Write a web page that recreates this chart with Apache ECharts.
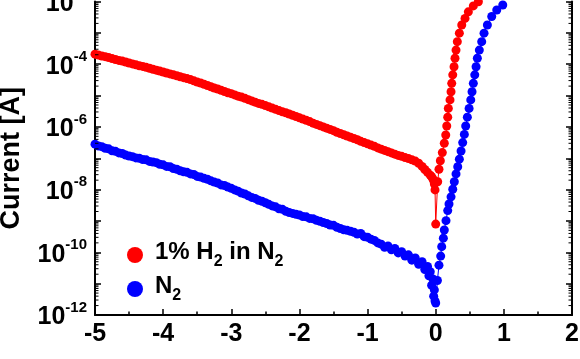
<!DOCTYPE html>
<html><head><meta charset="utf-8">
<script src="https://cdn.jsdelivr.net/npm/echarts@6/dist/echarts.min.js"></script>
<style>html,body{margin:0;padding:0;background:#fff}#c{width:580px;height:359px}</style>
</head><body><div id="c"></div>
<script>
// ---- data (voltage in V, current as log10 of A) ----
const seriesNames = ['1% H2 in N2', 'N2'];
const legendLabels = ['{a|1% H}{s|2}{a| in N}{s|2}', '{a|N}{s|2}'];
const xTickLabels = ['-5','-4','-3','-2','-1','0','1','2'];

const negVoltage = [
-5.00,-4.95,-4.90,-4.85,-4.80,-4.75,-4.70,-4.65,-4.60,-4.55,
-4.50,-4.45,-4.40,-4.35,-4.30,-4.25,-4.20,-4.15,-4.10,-4.05,
-4.00,-3.95,-3.90,-3.85,-3.80,-3.75,-3.70,-3.65,-3.60,-3.55,
-3.50,-3.45,-3.40,-3.35,-3.30,-3.25,-3.20,-3.15,-3.10,-3.05,
-3.00,-2.95,-2.90,-2.85,-2.80,-2.75,-2.70,-2.65,-2.60,-2.55,
-2.50,-2.45,-2.40,-2.35,-2.30,-2.25,-2.20,-2.15,-2.10,-2.05,
-2.00,-1.95,-1.90,-1.85,-1.80,-1.75,-1.70,-1.65,-1.60,-1.55,
-1.50,-1.45,-1.40,-1.35,-1.30,-1.25,-1.20,-1.15,-1.10,-1.05,
-1.00,-0.95,-0.90,-0.85,-0.80,-0.75,-0.70,-0.65,-0.60,-0.55,
-0.50,-0.45,-0.40,-0.35,-0.30,-0.25,-0.20];

const redTailVoltage = [-0.16,-0.12,-0.08,-0.06,-0.04,-0.03,-0.02,-0.01,0.00,
0.029,0.048,0.068,0.097,0.126,0.147,0.162,0.176,0.185,0.21,0.225,0.235,0.25,0.269,0.283,0.298,0.317,0.347,0.382,0.43,0.479,0.552,0.626];

const redLogCurrent = [
-3.68,-3.71,-3.74,-3.76,-3.79,-3.82,-3.85,-3.88,-3.90,-3.93,
-3.96,-3.99,-4.02,-4.05,-4.07,-4.10,-4.13,-4.16,-4.19,-4.22,
-4.25,-4.28,-4.31,-4.34,-4.37,-4.40,-4.43,-4.46,-4.49,-4.53,
-4.57,-4.60,-4.64,-4.68,-4.72,-4.76,-4.79,-4.83,-4.87,-4.91,
-4.94,-4.98,-5.02,-5.05,-5.09,-5.13,-5.17,-5.21,-5.25,-5.28,
-5.32,-5.36,-5.40,-5.44,-5.48,-5.52,-5.55,-5.59,-5.63,-5.67,
-5.71,-5.75,-5.79,-5.83,-5.88,-5.92,-5.96,-6.00,-6.04,-6.08,
-6.12,-6.17,-6.21,-6.25,-6.29,-6.33,-6.37,-6.41,-6.46,-6.50,
-6.54,-6.58,-6.62,-6.67,-6.71,-6.75,-6.79,-6.83,-6.87,-6.91,
-6.94,-6.98,-7.01,-7.05,-7.09,-7.16,-7.26,
-7.36,-7.45,-7.54,-7.59,-7.66,-7.71,-7.82,-8.01,-9.10,
-7.75,-7.35,-7.08,-6.82,-6.52,-6.26,-5.97,-5.69,-5.41,-5.14,-4.88,-4.61,-4.34,-4.08,-3.81,-3.55,-3.28,-3.01,-2.75,-2.54,-2.33,-2.14,-2.01];

const blueTailVoltage = [-0.16,-0.12,-0.10,-0.08,-0.06,-0.04,-0.03,-0.02,-0.01,0.00,
0.025,0.048,0.073,0.088,0.112,0.126,0.151,0.176,0.195,0.225,0.25,0.273,0.298,0.323,0.347,0.372,0.396,0.42,0.44,0.464,0.49,0.514,0.533,0.552,0.573,0.592,0.611,0.64,0.675,0.709,0.758,0.822,0.896,0.984];

const blueLogCurrent = [
-6.55,-6.61,-6.63,-6.68,-6.70,-6.76,-6.78,-6.83,-6.85,-6.90,
-6.93,-6.95,-6.99,-7.00,-7.04,-7.05,-7.10,-7.12,-7.14,-7.19,
-7.21,-7.26,-7.27,-7.33,-7.35,-7.40,-7.43,-7.45,-7.50,-7.52,
-7.58,-7.60,-7.64,-7.67,-7.72,-7.76,-7.79,-7.85,-7.87,-7.92,
-7.96,-8.01,-8.05,-8.11,-8.14,-8.20,-8.25,-8.28,-8.34,-8.37,
-8.42,-8.47,-8.52,-8.55,-8.61,-8.63,-8.69,-8.73,-8.76,-8.79,
-8.81,-8.86,-8.87,-8.92,-8.93,-8.98,-9.01,-9.05,-9.08,-9.13,
-9.14,-9.20,-9.24,-9.28,-9.30,-9.33,-9.36,-9.42,-9.40,-9.50,
-9.52,-9.58,-9.62,-9.70,-9.74,-9.84,-9.80,-9.92,-9.88,-10.02,
-9.98,-10.12,-10.08,-10.25,-10.18,-10.38,-10.30,
-10.55,-10.45,-10.75,-10.62,-11.05,-10.85,-11.40,-11.20,-11.55,-11.62,
-10.90,-10.41,-10.12,-9.82,-9.55,-9.29,-8.99,-8.67,-8.46,-8.23,-7.99,-7.75,-7.50,-7.27,-7.03,-6.77,-6.50,-6.24,-5.97,-5.69,-5.41,-5.14,-4.88,-4.61,-4.34,-4.08,-3.81,-3.55,-3.28,-3.01,-2.75,-2.48,-2.27,-2.11];

const yMinExp = -12, yMaxExp = -2;
const xMin = -5, xMax = 2;

// ---- build ----
const FONT = '"Liberation Sans", Arial, Helvetica, sans-serif';
const redData = negVoltage.concat(redTailVoltage).map((v, i) => [v, Math.pow(10, redLogCurrent[i])]);
const blueData = negVoltage.concat(blueTailVoltage).map((v, i) => [v, Math.pow(10, blueLogCurrent[i])]);

// minor log tick positions (axis decoration)
const minorTickVals = [];
for (let n = yMinExp; n < yMaxExp; n++) for (let k = 2; k <= 9; k++) minorTickVals.push([xMin, k * Math.pow(10, n)]);

const yLabelRich = {
  b: {fontFamily: FONT, fontWeight: 'bold', fontSize: 25, color: '#000', lineHeight: 30, verticalAlign: 'bottom'},
  s: {fontFamily: FONT, fontWeight: 'bold', fontSize: 15, color: '#000', lineHeight: 30, verticalAlign: 'top'}
};

const chart = echarts.init(document.getElementById('c'), null, {renderer: 'canvas'});
chart.setOption({
  animation: false,
  backgroundColor: '#fff',
  grid: {left: 95, right: 8, top: 1.5, bottom: 44, containLabel: false, outerBoundsMode: 'none'},
  legend: {
    data: seriesNames,
    orient: 'vertical',
    left: 127, top: 240,
    padding: 0,
    itemGap: 4,
    itemWidth: 16, itemHeight: 16,
    icon: 'circle',
    selectedMode: false,
    formatter: name => legendLabels[seriesNames.indexOf(name)],
    textStyle: {
      padding: [0, 0, 0, 7],
      rich: {
        a: {fontFamily: FONT, fontWeight: 'bold', fontSize: 24, color: '#000', lineHeight: 30, verticalAlign: 'top'},
        s: {fontFamily: FONT, fontWeight: 'bold', fontSize: 16, color: '#000', lineHeight: 30, verticalAlign: 'bottom'}
      }
    }
  },
  xAxis: {
    type: 'value', min: xMin, max: xMax, interval: 1,
    axisLine: {show: true, onZero: false, lineStyle: {color: '#000', width: 2}},
    axisTick: {show: true, inside: true, length: 6, lineStyle: {color: '#000', width: 1.5}},
    minorTick: {show: true, splitNumber: 2, length: 3.5, lineStyle: {color: '#000', width: 1.5}},
    splitLine: {show: false},
    axisLabel: {
      margin: 7, color: '#000', fontFamily: FONT, fontWeight: 'bold', fontSize: 25,
      formatter: v => xTickLabels[Math.round(v - xMin)]
    }
  },
  yAxis: [{
    type: 'log', logBase: 10, min: Math.pow(10, yMinExp), max: Math.pow(10, yMaxExp), interval: 1,
    name: 'Current [A]', nameLocation: 'middle', nameRotate: 90, nameGap: 70,
    nameTextStyle: {fontFamily: FONT, fontWeight: 'bold', fontSize: 27, color: '#000'},
    axisLine: {show: true, onZero: false, lineStyle: {color: '#000', width: 2}},
    axisTick: {show: true, inside: true, length: 6, lineStyle: {color: '#000', width: 1.5}},
    splitLine: {show: false},
    axisLabel: {
      margin: 8,
      formatter: v => { const e = Math.round(Math.log10(v)); return (e % 2 !== 0) ? '' : '{b|10}{s|' + e + '}'; },
      rich: yLabelRich
    }
  }, {
    type: 'log', logBase: 10, min: Math.pow(10, yMinExp), max: Math.pow(10, yMaxExp), interval: 1,
    position: 'right',
    axisLine: {show: true, onZero: false, lineStyle: {color: '#000', width: 2}},
    axisTick: {show: true, inside: true, length: 6, lineStyle: {color: '#000', width: 1.5}},
    splitLine: {show: false},
    axisLabel: {show: false}
  }],
  series: [
    {
      name: seriesNames[0], type: 'line', data: redData,
      symbol: 'circle', symbolSize: 9, showSymbol: true, showAllSymbol: true,
      itemStyle: {color: '#ff0000'}, lineStyle: {color: '#ff0000', width: 1},
      emphasis: {disabled: true}, z: 3
    },
    {
      name: seriesNames[1], type: 'line', data: blueData,
      symbol: 'circle', symbolSize: 9, showSymbol: true, showAllSymbol: true,
      itemStyle: {color: '#0000ff'}, lineStyle: {color: '#0000ff', width: 1},
      emphasis: {disabled: true}, z: 2
    },
    {
      type: 'custom', silent: true, data: minorTickVals, z: 5,
      renderItem: (params, api) => {
        const v = api.value(1);
        const pL = api.coord([xMin, v]);
        const pR = api.coord([xMax, v]);
        return {type: 'group', children: [
          {type: 'line', shape: {x1: pL[0], y1: pL[1], x2: pL[0] + 3.5, y2: pL[1]}, style: {stroke: '#000', lineWidth: 1}},
          {type: 'line', shape: {x1: pR[0] - 3.5, y1: pR[1], x2: pR[0], y2: pR[1]}, style: {stroke: '#000', lineWidth: 1}}
        ]};
      }
    }
  ]
});
</script>
</body></html>
